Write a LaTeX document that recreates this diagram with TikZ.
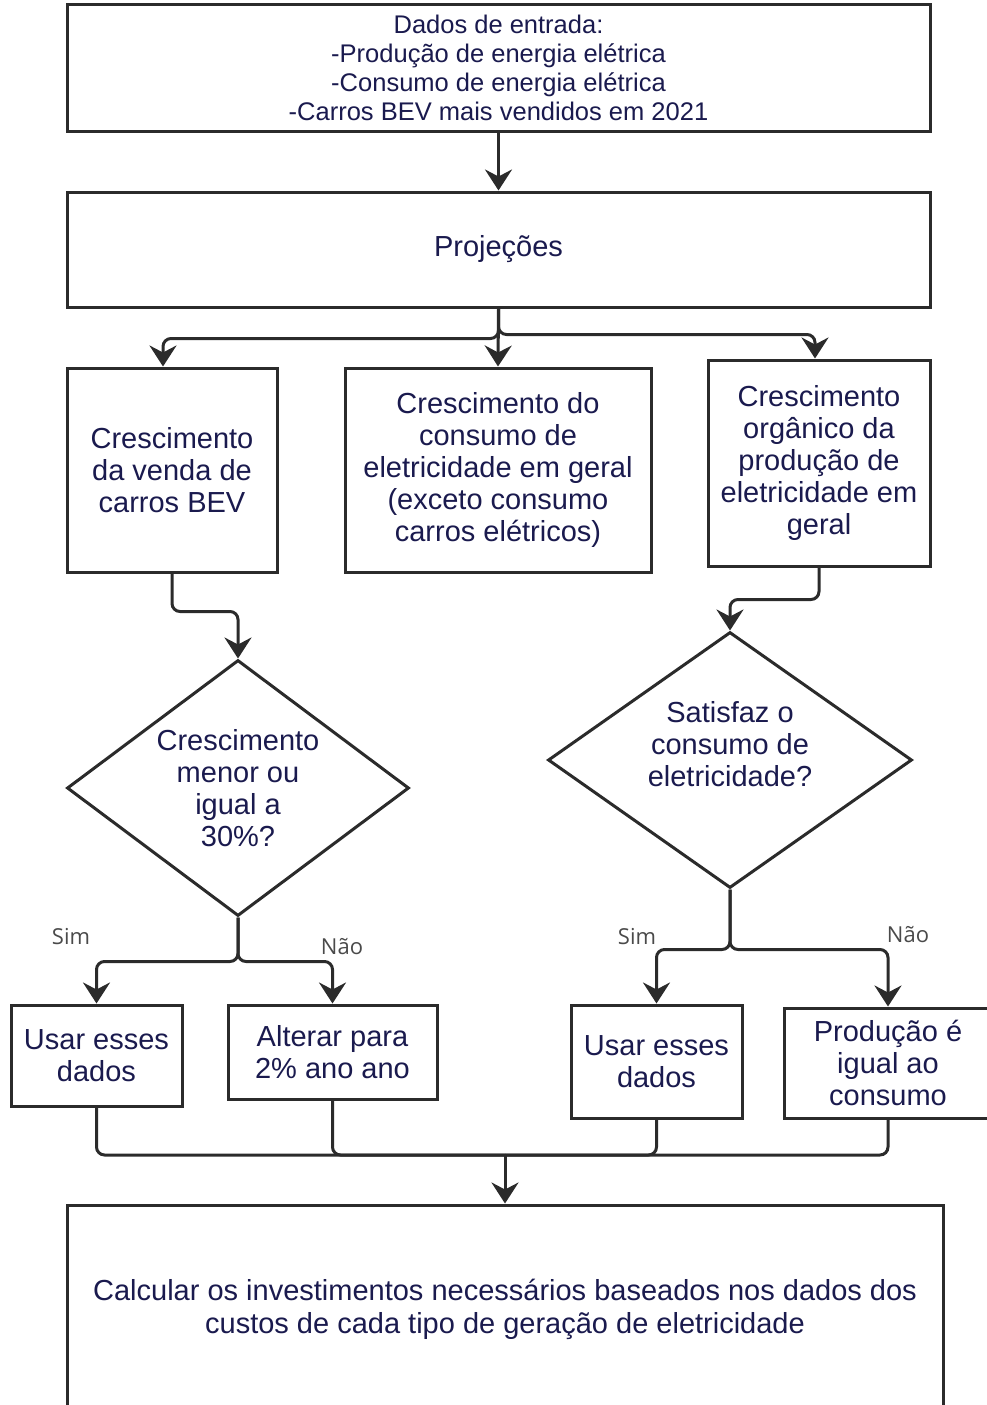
\documentclass[tikz,border=0pt]{standalone}
\usepackage{fontspec}
\setmainfont{Liberation Sans}
\newfontfamily\lblfont{Open Sans}
\usetikzlibrary{arrows.meta, positioning, shapes.geometric}
\definecolor{fline}{HTML}{2B2B2B}
\definecolor{ftext}{HTML}{1A1A4E}
\definecolor{fgray}{HTML}{4A4A4A}
\tikzset{
  procbox/.style={draw=fline, line width=3pt, fill=white, text=ftext, align=center,
                  inner sep=0pt, font=\fontsize{29}{32}\selectfont},
  decbox/.style={draw=fline, line width=3pt, fill=white, text=ftext, align=center,
                 diamond, shape aspect=1.34, inner sep=0pt, font=\fontsize{29}{32}\selectfont},
  lbl/.style={text=fgray, font=\lblfont\fontsize{22}{25}\selectfont},
  arr/.style={-{Stealth[length=21pt, width=27pt, inset=7pt]}, line width=3pt, fline, rounded corners=8pt},
  lnk/.style={line width=3pt, fline, rounded corners=8pt},
}
\begin{document}
\begin{tikzpicture}[x=1pt, y=-1pt]
  \useasboundingbox (0,0) rectangle (987,1405);
  \clip (0,0) rectangle (987,1405);

  %% Input and projections
  \node[procbox, minimum width=863pt, minimum height=126pt, font=\fontsize{25.5}{29}\selectfont]
    (dados) at (498.5,68) {Dados de entrada:\\-Produção de energia elétrica\\-Consumo de energia elétrica\\-Carros BEV mais vendidos em 2021};
  \node[procbox, minimum width=863pt, minimum height=115pt] (proj) at (498.5,249.5) {Projeções};

  %% Three growth boxes
  \node[procbox, minimum width=210pt, minimum height=204pt] (cbev) at (172,470)
    {Crescimento\\da venda de\\carros BEV};
  \node[procbox, minimum width=306pt, minimum height=204pt] (ccons) at (498,470)
    {Crescimento do\\consumo de\\eletricidade em geral\\(exceto consumo\\carros elétricos)};
  \node[procbox, minimum width=222pt, minimum height=206pt] (cprod) at (819,463)
    {Crescimento\\orgânico da\\produção de\\eletricidade em\\geral};

  %% Decisions
  \node[decbox, minimum width=342pt, minimum height=256pt] (dia1) at (238,788)
    {Crescimento\\menor ou\\igual a\\30\%?};
  \node[decbox, minimum width=364pt, minimum height=256pt] (dia2) at (730,760)
    {Satisfaz o\\consumo de\\eletricidade?\\\mbox{}};

  %% Outcomes
  \node[procbox, minimum width=171pt, minimum height=101pt] (use1) at (96.5,1055.5) {Usar esses\\dados};
  \node[procbox, minimum width=209pt, minimum height=94pt] (alt) at (332.5,1052) {Alterar para\\2\% ano ano};
  \node[procbox, minimum width=171pt, minimum height=113pt] (use2) at (656.5,1061.5) {Usar esses\\dados};
  \node[procbox, minimum width=208pt, minimum height=110pt] (igual) at (888,1063) {Produção é\\igual ao\\consumo};

  \node[procbox, minimum width=876pt, minimum height=208pt, font=\fontsize{29}{33}\selectfont] (calc) at (505,1309)
    {Calcular os investimentos necessários baseados nos dados dos\\custos de cada tipo de geração de eletricidade};

  %% Branch labels
  \node[lbl] (sim1) at (71,937) {Sim};
  \node[lbl] (nao1) at (342,947) {Não};
  \node[lbl] (sim2) at (637,937) {Sim};
  \node[lbl] (nao2) at (908,935) {Não};

  %% Connectors
  \draw[arr] (dados.south) -- (proj.north);
  \draw[arr] (proj.south) -- ++(0,30) -| ([xshift=-9pt]cbev.north);
  \draw[arr] (proj.south) -- (ccons.north);
  \draw[arr] (proj.south) -- ++(0,26) -| ([xshift=-4pt]cprod.north);

  \draw[arr] (cbev.south) -- ++(0,38) -| (dia1.north);
  \draw[arr] (cprod.south) -- ++(0,32) -| (dia2.north);

  \draw[arr] (dia1.south) -- ++(0,44) -| (use1.north);
  \draw[arr] (dia1.south) -- ++(0,44) -| (alt.north);
  \draw[arr] (dia2.south) -- ++(0,60) -| (use2.north);
  \draw[arr] (dia2.south) -- ++(0,60) -| (igual.north);

  \coordinate (merge) at (505,1155);
  \draw[lnk] (use1.south) |- (merge);
  \draw[lnk] (alt.south) |- (merge);
  \draw[lnk] (use2.south) |- (merge);
  \draw[lnk] (igual.south) |- (merge);
  \draw[arr] (merge) -- (calc.north);

\end{tikzpicture}
\end{document}
